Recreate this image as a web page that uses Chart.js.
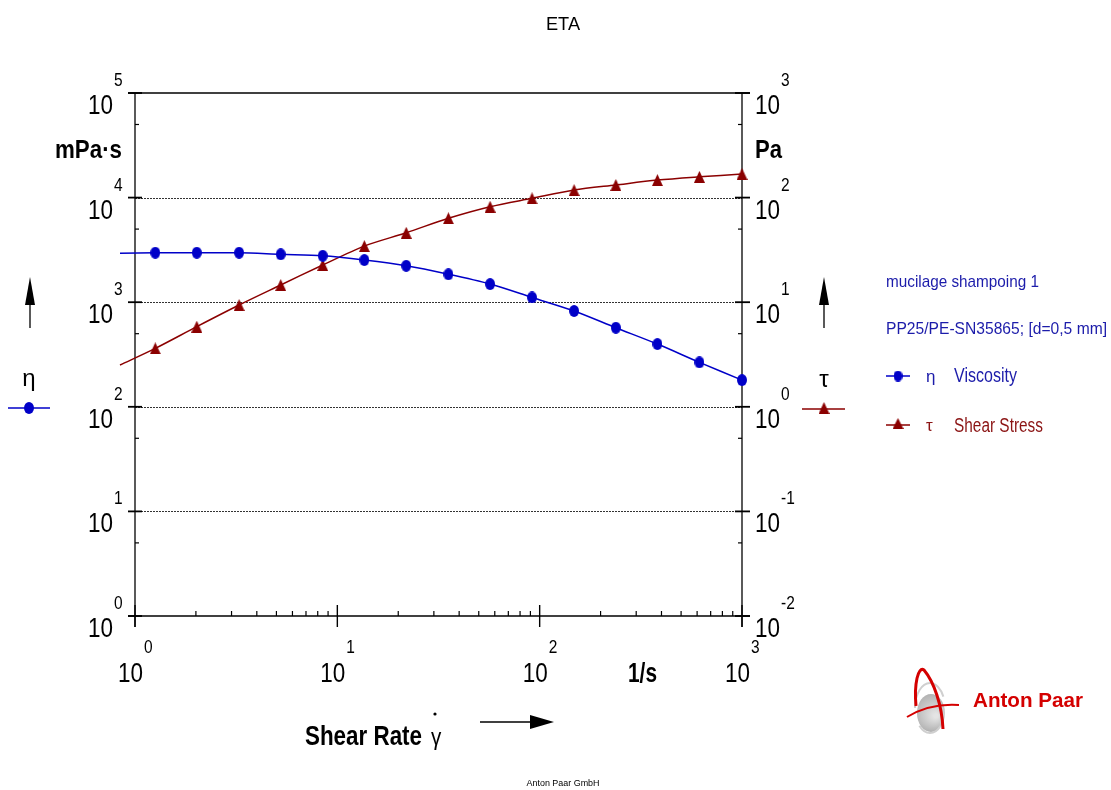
<!DOCTYPE html>
<html><head><meta charset="utf-8">
<script src="https://cdn.jsdelivr.net/npm/chart.js@4/dist/chart.umd.min.js"></script>
<style>html,body{margin:0;padding:0;background:#fff;}#wrap{width:1111px;height:790px;position:relative;}</style>
</head><body><div id="wrap"><canvas id="c"></canvas></div>
<script>
// ---- data ----
const shearRate   = [1.26, 2.02, 3.27, 5.25, 8.47, 13.6, 21.9, 35.4, 56.9, 91.7, 148, 238, 382, 616, 1000];
const viscosity   = [2970, 2970, 2970, 2870, 2780, 2530, 2230, 1850, 1490, 1110, 824, 570, 398, 266, 180];
const shearStress = [3.62, 5.84, 9.40, 14.6, 22.7, 34.4, 46.1, 63.4, 81.8, 98.4, 118, 132, 147, 158, 168];
// start of the fitted curves (left of the axis)
const fitStartRate = 0.843;
const viscosityFitStart = 2930;
const stressFitStart = 2.51;
// tick labels (powers of ten)
const xTickExponents = [0, 1, 2, 3];
const leftTickExponents = [0, 1, 2, 3, 4, 5];
const rightTickExponents = [-2, -1, 0, 1, 2, 3];
const titleText = 'ETA';
const legendLines = ['mucilage shampoing 1', 'PP25/PE-SN35865; [d=0,5 mm]'];
const seriesNames = ['Viscosity', 'Shear Stress'];
const seriesSymbols = ['η', 'τ'];

const BLUE = '#0000c8', RED = '#8b0000', TBLUE = '#1c1caa', TRED = '#8b1414';
const FONT = "'Liberation Sans', Arial, sans-serif";

function makeEllipse(w, h, color) {
  const c = document.createElement('canvas'); c.width = w; c.height = h;
  const g = c.getContext('2d'); g.fillStyle = color;
  g.beginPath(); g.ellipse(w / 2, h / 2, w / 2, h / 2, 0, 0, Math.PI * 2); g.fill();
  return c;
}
function makeTriangle(w, h, color) {
  const c = document.createElement('canvas'); c.width = w; c.height = h;
  const g = c.getContext('2d'); g.fillStyle = color;
  g.beginPath(); g.moveTo(w / 2, 0); g.lineTo(w, h); g.lineTo(0, h); g.closePath(); g.fill();
  return c;
}
const circleImg = makeEllipse(10, 12, BLUE);
const triImg = makeTriangle(11, 12, RED);

function txt(ctx, s, x, y, size, o = {}) {
  const bold = o.bold || false, align = o.align || 'left', color = o.color || '#000';
  ctx.save();
  ctx.font = (bold ? 'bold ' : '') + size + 'px ' + FONT;
  ctx.fillStyle = color; ctx.textBaseline = 'alphabetic'; ctx.textAlign = 'left';
  const m = ctx.measureText(s).width;
  const sc = o.w ? o.w / m : (o.sx || 1);
  const ww = m * sc;
  const x0 = align === 'left' ? x : align === 'right' ? x - ww : x - ww / 2;
  ctx.translate(x0, y); ctx.scale(sc, 1); ctx.fillText(s, 0, 0);
  ctx.restore();
}
function seg(ctx, x1, y1, x2, y2) { ctx.beginPath(); ctx.moveTo(x1, y1); ctx.lineTo(x2, y2); ctx.stroke(); }

const framePlugin = {
  id: 'frame',
  beforeDatasetsDraw(chart) {
    const ctx = chart.ctx, ca = chart.chartArea;
    const xs = chart.scales.x, yl = chart.scales.yL, yr = chart.scales.yR;
    ctx.save();
    // dotted grid
    ctx.strokeStyle = '#333'; ctx.lineWidth = 1; ctx.setLineDash([2, 1]);
    leftTickExponents.forEach(e => {
      const y = Math.round(yl.getPixelForValue(Math.pow(10, e))) + 0.5;
      if (y > ca.top + 2 && y < ca.bottom - 2) seg(ctx, ca.left, y, ca.right, y);
    });
    ctx.setLineDash([]);
    // frame
    ctx.strokeStyle = '#000'; ctx.lineWidth = 1.3;
    seg(ctx, ca.left - 7, ca.top, ca.right + 8, ca.top);
    seg(ctx, ca.left - 7, ca.bottom, ca.right + 8, ca.bottom);
    seg(ctx, ca.left, ca.top, ca.left, ca.bottom + 11);
    seg(ctx, ca.right, ca.top, ca.right, ca.bottom + 11);
    // major ticks
    ctx.lineWidth = 1.8;
    leftTickExponents.forEach(e => { const y = yl.getPixelForValue(Math.pow(10, e)); seg(ctx, ca.left - 7, y, ca.left + 7, y); });
    rightTickExponents.forEach(e => { const y = yr.getPixelForValue(Math.pow(10, e)); seg(ctx, ca.right - 7, y, ca.right + 8, y); });
    ctx.lineWidth = 1.4;
    xTickExponents.forEach(e => { const x = xs.getPixelForValue(Math.pow(10, e)); seg(ctx, x, ca.bottom - 11, x, ca.bottom + 11); });
    // minor ticks
    ctx.lineWidth = 1.2;
    leftTickExponents.slice(0, -1).forEach(e => { const y = yl.getPixelForValue(5 * Math.pow(10, e)); seg(ctx, ca.left, y, ca.left + 4, y); });
    rightTickExponents.slice(0, -1).forEach(e => { const y = yr.getPixelForValue(5 * Math.pow(10, e)); seg(ctx, ca.right - 4, y, ca.right, y); });
    xTickExponents.slice(0, -1).forEach(e => {
      for (let k = 2; k <= 9; k++) { const x = xs.getPixelForValue(k * Math.pow(10, e)); seg(ctx, x, ca.bottom - 5, x, ca.bottom); }
    });
    ctx.restore();
  },
  afterDraw(chart) {
    const ctx = chart.ctx, ca = chart.chartArea;
    const xs = chart.scales.x, yl = chart.scales.yL, yr = chart.scales.yR;
    ctx.save();
    // tick labels
    leftTickExponents.forEach(e => {
      const y = yl.getPixelForValue(Math.pow(10, e));
      txt(ctx, '10', ca.left - 22, y + 21, 27, { align: 'right', w: 25 });
      txt(ctx, String(e), ca.left - 21, y - 7, 18, { sx: 0.86 });
    });
    rightTickExponents.forEach(e => {
      const y = yr.getPixelForValue(Math.pow(10, e));
      txt(ctx, '10', ca.right + 13, y + 21, 27, { w: 25 });
      txt(ctx, String(e), ca.right + 39, y - 7, 18, { sx: 0.86 });
    });
    xTickExponents.forEach(e => {
      const x = xs.getPixelForValue(Math.pow(10, e));
      txt(ctx, '10', x + 8, 682, 27, { align: 'right', w: 25 });
      txt(ctx, String(e), x + 9, 653, 18, { sx: 0.86 });
    });
    // title
    txt(ctx, titleText, 563, 30, 19, { align: 'center', w: 34 });
    // units
    txt(ctx, 'mPa·s', 122, 158, 25, { bold: true, align: 'right', w: 67 });
    txt(ctx, 'Pa', 755, 158, 25, { bold: true, w: 27 });
    txt(ctx, '1/s', 628, 682, 28, { bold: true, w: 29 });
    txt(ctx, 'Shear Rate', 305, 745, 28, { bold: true, w: 117 });
    txt(ctx, 'γ', 431, 745, 24, { sx: 0.86 });
    ctx.fillStyle = '#000'; ctx.beginPath(); ctx.arc(435, 714, 1.6, 0, Math.PI * 2); ctx.fill();
    // x arrow
    ctx.strokeStyle = '#000'; ctx.lineWidth = 1.5; seg(ctx, 480, 722, 532, 722);
    ctx.beginPath(); ctx.moveTo(530, 715); ctx.lineTo(554, 722); ctx.lineTo(530, 729); ctx.closePath(); ctx.fill();
    // vertical arrows
    [30, 824].forEach(ax => {
      ctx.lineWidth = 1.3; seg(ctx, ax, 303, ax, 328);
      ctx.beginPath(); ctx.moveTo(ax, 277); ctx.lineTo(ax - 5, 305); ctx.lineTo(ax + 5, 305); ctx.closePath(); ctx.fill();
    });
    txt(ctx, seriesSymbols[0], 29, 386, 24, { align: 'center' });
    txt(ctx, seriesSymbols[1], 824, 387, 24, { align: 'center' });
    ctx.lineWidth = 1.5;
    ctx.strokeStyle = BLUE; seg(ctx, 8, 408, 50, 408); ctx.drawImage(circleImg, 29 - 5, 408 - 6);
    ctx.strokeStyle = RED; seg(ctx, 802, 409, 845, 409); ctx.drawImage(triImg, 824 - 5.5, 409 - 7);
    // right legend
    txt(ctx, legendLines[0], 886, 287, 17, { color: TBLUE, w: 153 });
    txt(ctx, legendLines[1], 886, 334, 17, { color: TBLUE, w: 221 });
    ctx.strokeStyle = BLUE; seg(ctx, 886, 376, 910, 376); ctx.drawImage(makeEllipse(9, 11, BLUE), 898 - 4.5, 376 - 5.5);
    txt(ctx, seriesSymbols[0], 926, 382, 17, { color: TBLUE });
    txt(ctx, seriesNames[0], 954, 382, 20, { color: TBLUE, w: 63 });
    ctx.strokeStyle = RED; seg(ctx, 886, 425, 910, 425); ctx.drawImage(makeTriangle(11, 11, RED), 898 - 5.5, 425 - 7);
    txt(ctx, seriesSymbols[1], 926, 431, 17, { color: TRED });
    txt(ctx, seriesNames[1], 954, 432, 20, { color: TRED, w: 89 });
    // logo
    const grd = ctx.createRadialGradient(936, 716, 2, 931, 712, 22);
    grd.addColorStop(0, '#e4e4e4'); grd.addColorStop(1, '#a8a8a8');
    ctx.fillStyle = grd; ctx.beginPath(); ctx.ellipse(931, 713, 14, 19, 0, 0, Math.PI * 2); ctx.fill();
    ctx.strokeStyle = '#cfcfcf'; ctx.lineWidth = 2; ctx.beginPath(); ctx.ellipse(930, 708, 15, 25, 0, Math.PI * 1.0, Math.PI * 1.85); ctx.stroke();
    ctx.beginPath(); ctx.ellipse(930, 708, 15, 25, 0, Math.PI * 0.25, Math.PI * 0.75); ctx.stroke();
    ctx.strokeStyle = '#d40000'; ctx.lineWidth = 3;
    ctx.beginPath(); ctx.moveTo(916, 706); ctx.bezierCurveTo(914, 684, 918, 666, 924, 670);
    ctx.bezierCurveTo(934, 682, 942, 705, 943, 729); ctx.stroke();
    ctx.lineWidth = 2; ctx.beginPath(); ctx.moveTo(907, 717); ctx.quadraticCurveTo(930, 703, 959, 705); ctx.stroke();
    txt(ctx, 'Anton Paar', 973, 707, 21, { bold: true, color: '#d40000', w: 110 });
    txt(ctx, 'Anton Paar GmbH', 563, 786, 9, { align: 'center', w: 73 });
    ctx.restore();
  }
};

const pts = (ys, x0, y0) => [{ x: x0, y: y0 }].concat(shearRate.map((x, i) => ({ x: x, y: ys[i] })));

new Chart(document.getElementById('c'), {
  type: 'line',
  data: {
    datasets: [
      { label: seriesNames[0], data: pts(viscosity, fitStartRate, viscosityFitStart), yAxisID: 'yL',
        borderColor: BLUE, backgroundColor: BLUE, borderWidth: 1.5, pointStyle: circleImg,
        pointRadius: c => c.dataIndex === 0 ? 0 : 5, tension: 0.3, clip: false },
      { label: seriesNames[1], data: pts(shearStress, fitStartRate, stressFitStart), yAxisID: 'yR',
        borderColor: RED, backgroundColor: RED, borderWidth: 1.5, pointStyle: triImg,
        pointRadius: c => c.dataIndex === 0 ? 0 : 5, tension: 0.3, clip: false }
    ]
  },
  options: {
    responsive: true, maintainAspectRatio: false, animation: false, events: [],
    layout: { padding: { left: 135, right: 369, top: 93, bottom: 174 } },
    plugins: { legend: { display: false }, title: { display: false }, tooltip: { enabled: false } },
    scales: {
      x: { type: 'logarithmic', min: 1, max: 1000, display: false },
      yL: { type: 'logarithmic', position: 'left', min: 1, max: 100000, display: false },
      yR: { type: 'logarithmic', position: 'right', min: 0.01, max: 1000, display: false }
    }
  },
  plugins: [framePlugin]
});
</script>
</body></html>
